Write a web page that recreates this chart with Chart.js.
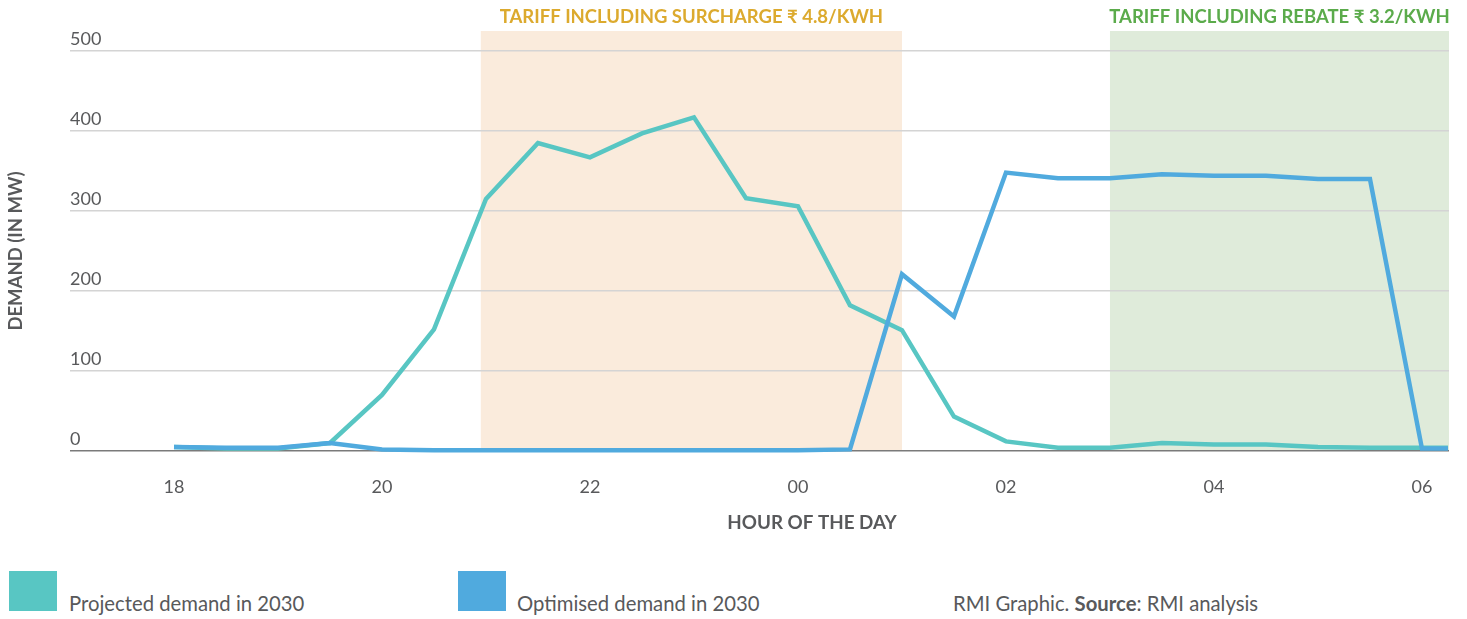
<!DOCTYPE html>
<html>
<head>
<meta charset="utf-8">
<script src="https://cdn.jsdelivr.net/npm/chart.js@4"></script>
<style>
  body { margin: 0; background: #fff; font-family: Lato, 'DejaVu Sans', sans-serif; color: #58595b; }
  #wrap { position: relative; width: 1467px; height: 619px; }
  #chartBox { position: absolute; left: 0; top: 0; width: 1467px; height: 545px; }
  .swatch { position: absolute; top: 571px; width: 48px; height: 40px; }
  .legText { position: absolute; top: 591px; font-size: 20.3px; line-height: 24px; white-space: nowrap; }
</style>
</head>
<body>
<div id="wrap">
  <div id="chartBox"><canvas id="demandChart"></canvas></div>
  <div class="swatch" style="left:9px;background:#58c6c3"></div>
  <div class="legText" style="left:69px">Projected demand in 2030</div>
  <div class="swatch" style="left:458px;background:#50aade"></div>
  <div class="legText" style="left:517px">Optimised demand in 2030</div>
  <div class="legText" style="left:953px">RMI Graphic. <b>Source</b>: RMI analysis</div>
</div>
<script>
  const timeLabels = ['18:00', '18:30', '19:00', '19:30', '20:00', '20:30', '21:00', '21:30', '22:00', '22:30',
    '23:00', '23:30', '00:00', '00:30', '01:00', '01:30', '02:00', '02:30', '03:00', '03:30',
    '04:00', '04:30', '05:00', '05:30', '06:00', '06:15'];
  const projectedDemand = [5, 3, 3, 10, 70, 152, 315, 385, 367, 397, 417, 316, 306, 182, 151, 43, 12, 4, 4, 10, 8, 8, 5, 4, 4, 4];
  const optimisedDemand = [5, 4, 4, 10, 2, 1, 1, 1, 1, 1, 1, 1, 1, 2, 221, 168, 348, 341, 341, 346, 344, 344, 340, 340, 3, 3];
  const hourTicks = ['18:00', '20:00', '22:00', '00:00', '02:00', '04:00', '06:00'];
  const demandTicks = [0, 100, 200, 300, 400, 500];
  const surchargeBand = ['20:57', '01:00'];
  const rebateBand = ['03:00', '06:16'];

  // hours counted from 18:00, wrapping past midnight
  const toHours = function(label){
    const parts = label.split(':');
    let v = parseInt(parts[0], 10) + parseInt(parts[1], 10) / 60 - 18;
    if(v < 0) v += 24;
    return v;
  };

  const toPoints = function(values){
    return values.map((v, i) => ({ x: toHours(timeLabels[i]), y: v }));
  };

  const textColor = '#58595b';

  const bandPlugin = {
    id: 'tariffBands',
    beforeDraw(chart){
      const { ctx, chartArea, scales: { x } } = chart;
      const bands = [
        { range: surchargeBand, fill: '#faebdc', color: '#dcaa2e', text: 'TARIFF INCLUDING SURCHARGE ₹ 4.8/KWH' },
        { range: rebateBand, fill: '#dfebda', color: '#5bab4b', text: 'TARIFF INCLUDING REBATE ₹ 3.2/KWH' },
      ];
      ctx.save();
      for(let band of bands){
        const x1 = x.getPixelForValue(toHours(band.range[0]));
        const x2 = Math.min(x.getPixelForValue(toHours(band.range[1])), chartArea.right);
        ctx.fillStyle = band.fill;
        ctx.fillRect(x1, chartArea.top - 20, x2 - x1, chartArea.bottom - chartArea.top + 20);
        ctx.fillStyle = band.color;
        ctx.font = 'bold 18.5px Lato, "DejaVu Sans", sans-serif';
        ctx.textAlign = 'center';
        ctx.textBaseline = 'middle';
        ctx.fillText(band.text, (x1 + x2) / 2, chartArea.top - 34);
      }
      ctx.restore();
    },
    afterDraw(chart){
      const { ctx, chartArea } = chart;
      ctx.save();
      ctx.fillStyle = textColor;
      ctx.font = 'bold 18.8px Lato, "DejaVu Sans", sans-serif';
      ctx.textAlign = 'center';
      ctx.textBaseline = 'middle';
      ctx.fillText('HOUR OF THE DAY', 812, 523);
      ctx.translate(16, (chartArea.top + chartArea.bottom) / 2);
      ctx.rotate(-Math.PI / 2);
      ctx.font = 'bold 18.5px Lato, "DejaVu Sans", sans-serif';
      ctx.fillText('DEMAND (IN MW)', 0, 0);
      ctx.restore();
    }
  };

  const ctx = document.getElementById('demandChart').getContext('2d');
  // eslint-disable-next-line no-undef, no-unused-vars
  const demandChart = new Chart(ctx, {
    type: 'line',
    data: {
      datasets: [
        {
          label: 'Projected demand in 2030',
          data: toPoints(projectedDemand),
          borderColor: '#58c6c3',
          borderWidth: 4.5,
          order: 2,
        },
        {
          label: 'Optimised demand in 2030',
          data: toPoints(optimisedDemand),
          borderColor: '#50aade',
          borderWidth: 4.5,
          order: 1,
        }
      ]
    },
    options: {
      responsive: true,
      maintainAspectRatio: false,
      animation: false,
      layout: {
        padding: { top: 51, right: 18, left: 0, bottom: 0 },
      },
      elements: {
        point: { radius: 0 },
        line: { tension: 0, borderJoinStyle: 'miter', borderCapStyle: 'butt', fill: false },
      },
      datasets: {
        line: { clip: false },
      },
      scales: {
        x: {
          type: 'linear',
          min: -1,
          max: 12.26,
          afterBuildTicks: (scale) => {
            scale.ticks = hourTicks.map(t => ({ value: toHours(t) }));
          },
          afterFit: (scale) => {
            scale.height = 94;
          },
          grid: { display: false, drawTicks: false },
          border: { display: false },
          ticks: {
            padding: 25,
            color: textColor,
            font: { family: 'Lato', size: 18 },
            callback: (value) => String((18 + value) % 24).padStart(2, '0'),
          },
        },
        y: {
          min: 0,
          max: 500,
          afterBuildTicks: (scale) => {
            scale.ticks = demandTicks.map(v => ({ value: v }));
          },
          afterFit: (scale) => {
            scale.width = 70;
          },
          grid: {
            drawTicks: false,
            lineWidth: 1.5,
            color: (c) => c.tick && c.tick.value === 0 ? '#7a7a7a' : '#d4d4d4',
          },
          border: { display: false },
          ticks: {
            mirror: true,
            padding: 0,
            labelOffset: -12,
            color: textColor,
            font: { family: 'Lato', size: 18 },
          },
        }
      },
      plugins: {
        legend: { display: false },
        tooltip: { enabled: false },
      },
    },
    plugins: [bandPlugin],
  });
</script>
</body>
</html>
